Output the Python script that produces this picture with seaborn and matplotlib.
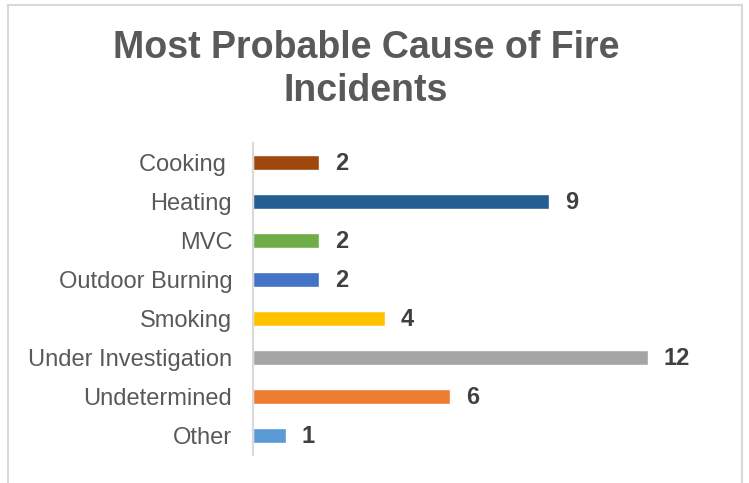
import matplotlib
matplotlib.use("Agg")
import matplotlib.pyplot as plt
import seaborn as sns
import pandas as pd
from matplotlib.patches import Rectangle

categories = ["Cooking ", "Heating", "MVC", "Outdoor Burning", "Smoking",
              "Under Investigation", "Undetermined", "Other"]
counts = [2, 9, 2, 2, 4, 12, 6, 1]
colors = ["#9E480E", "#255E91", "#70AD47", "#4472C4", "#FFC000",
          "#A5A5A5", "#ED7D31", "#5B9BD5"]
title_lines = ["Most Probable Cause of Fire", "Incidents"]

sns.set_theme(style="white")
plt.rcParams["font.family"] = ["Liberation Sans", "DejaVu Sans"]

W, H = 749, 483
fig = plt.figure(figsize=(W / 100, H / 100), dpi=100)
fig.patch.set_facecolor("white")

# chart frame
fig.add_artist(Rectangle((8 / W, -0.05), (742 - 8) / W, 1.05 - 5 / H,
                         transform=fig.transFigure, fill=False,
                         edgecolor="#d9d9d9", linewidth=1.5))

ax = fig.add_axes([253 / W, 1 - 455 / H, (720 - 253) / W, (455 - 143) / H])

df = pd.DataFrame({"cause": categories, "count": counts})
sns.barplot(data=df, y="cause", x="count", hue="cause", palette=colors,
            orient="h", width=0.36, legend=False, ax=ax, saturation=1)

ax.set_xlim(0, (720 - 253) / 32.9)
ax.set_xlabel("")
ax.set_ylabel("")
ax.set_xticks([])
for s in ["top", "right", "bottom"]:
    ax.spines[s].set_visible(False)
ax.spines["left"].set_color("#d9d9d9")
ax.spines["left"].set_linewidth(1.5)
ax.tick_params(axis="y", length=0, pad=15, labelsize=17, labelcolor="#595959")

for i, v in enumerate(counts):
    ax.annotate(str(v), xy=(v, i), xytext=(11.5, -1), textcoords="offset points",
                ha="left", va="center", fontsize=17, fontweight="bold",
                color="#404040")

for j, line in enumerate(title_lines):
    fig.text(366 / W, 1 - (58 + 43 * j) / H, line, ha="center", va="baseline",
             fontsize=27, fontweight="bold", color="#595959")

fig.savefig("out.png", dpi=100, facecolor="white")
